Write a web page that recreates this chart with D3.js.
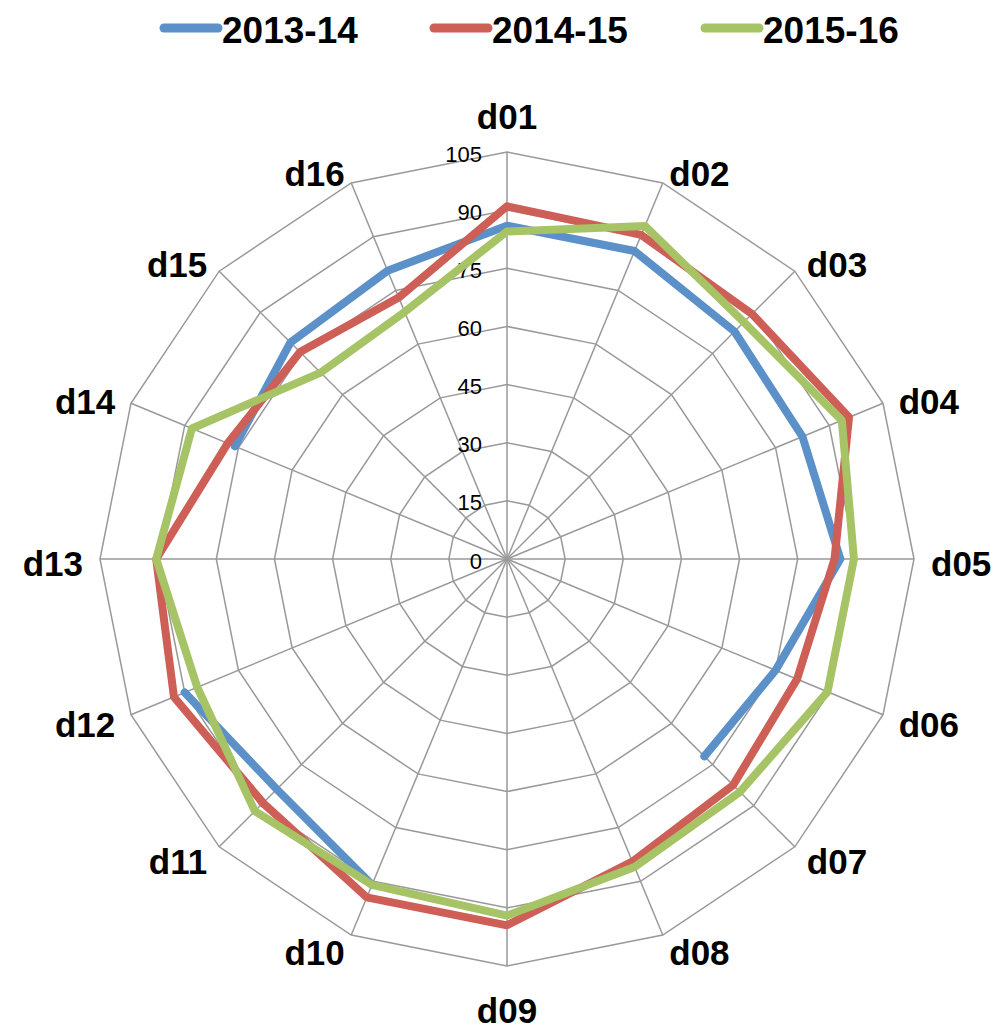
<!DOCTYPE html>
<html>
<head>
<meta charset="utf-8">
<script src="https://cdn.jsdelivr.net/npm/d3@7"></script>
<style>
  html, body { margin: 0; padding: 0; background: #fff; }
  svg { display: block; }
</style>
</head>
<body>
<svg id="chart" width="999" height="1028"></svg>
<script>
const categories = ["d01","d02","d03","d04","d05","d06","d07","d08","d09","d10","d11","d12","d13","d14","d15","d16"];
const seriesNames = ["2013-14","2014-15","2015-16"];
const values2013 = [86, 86, 83, 82.5, 86, 75, 72, null, null, 91, 84, 90, null, 76, 79, 80.5];
const values2014 = [91, 90.5, 89.4, 95.5, 84.5, 81, 82.5, 84.5, 94.5, 94.5, 89, 93, 90.5, 78, 75.5, 73];
const values2015 = [84.5, 93, 86.4, 93.5, 89.5, 89.5, 85, 86, 92, 91, 92, 86.5, 90.5, 88, 68, 69];
const tickValues = [0, 15, 30, 45, 60, 75, 90, 105];
const seriesColors = ["#5B90C8", "#CD5F56", "#A6C365"];

const series = [
  { name: seriesNames[0], values: values2013, color: seriesColors[0] },
  { name: seriesNames[1], values: values2014, color: seriesColors[1] },
  { name: seriesNames[2], values: values2015, color: seriesColors[2] }
];

const svg = d3.select("#chart");
const cx = 507, cy = 559, R = 407;
const r = d3.scaleLinear().domain([0, 105]).range([0, R]);
const n = categories.length;
const angle = d3.scaleLinear().domain([0, n]).range([0, 2 * Math.PI]);

const g = svg.append("g").attr("transform", `translate(${cx},${cy})`);

// grid rings
const ringLine = d3.lineRadial().curve(d3.curveLinearClosed)
  .angle((d, i) => angle(i)).radius(d => r(d));
tickValues.filter(v => v > 0).forEach(v => {
  g.append("path")
    .attr("d", ringLine(categories.map(() => v)))
    .attr("fill", "none").attr("stroke", "#999").attr("stroke-width", 1.5);
});
// spokes
categories.forEach((c, i) => {
  const a = angle(i);
  g.append("line")
    .attr("x1", 0).attr("y1", 0)
    .attr("x2", r(105) * Math.sin(a)).attr("y2", -r(105) * Math.cos(a))
    .attr("stroke", "#999").attr("stroke-width", 1.5);
});

// tick labels
g.selectAll("text.tick").data(tickValues).enter().append("text")
  .attr("class", "tick")
  .attr("x", -25).attr("y", d => -r(d) + 2)
  .attr("text-anchor", "end").attr("dominant-baseline", "central")
  .attr("font-family", "Liberation Sans, Arial, sans-serif")
  .attr("font-size", 22).attr("fill", "#000")
  .text(d => d);

// category labels
categories.forEach((c, i) => {
  const a = angle(i);
  const s = Math.sin(a), co = Math.cos(a);
  let x, y, anchor;
  if (Math.abs(s) < 0.01) {
    anchor = "middle";
    x = 0;
    y = -(R + 40) * co + 4;
  } else {
    anchor = s > 0 ? "start" : "end";
    x = (R + 17) * s;
    y = -(R + 15) * co + 4;
  }
  g.append("text")
    .attr("x", x).attr("y", y)
    .attr("text-anchor", anchor).attr("dominant-baseline", "central")
    .attr("font-family", "Liberation Sans, Arial, sans-serif")
    .attr("font-weight", "bold").attr("font-size", 35).attr("fill", "#000")
    .text(c);
});

// series lines
series.forEach(sr => {
  const vals = sr.values;
  const pts = vals.map((v, i) => ({ v, i }));
  let path;
  if (vals.every(v => v != null)) {
    path = d3.lineRadial().curve(d3.curveLinearClosed)
      .angle(d => angle(d.i)).radius(d => r(d.v))(pts);
  } else {
    const k = vals.findIndex(v => v == null);
    const rot = [];
    for (let j = 1; j <= n; j++) {
      const idx = (k + j) % n;
      rot.push({ v: vals[idx], i: idx, a: angle(idx) + (k + j >= n ? 2 * Math.PI : 0) });
    }
    path = d3.lineRadial().defined(d => d.v != null)
      .angle(d => d.a).radius(d => r(d.v))(rot);
  }
  g.append("path")
    .attr("d", path)
    .attr("fill", "none").attr("stroke", sr.color)
    .attr("stroke-width", 8).attr("stroke-linejoin", "round").attr("stroke-linecap", "round");
});

// legend
const legendX = [160, 430, 701];
const legend = svg.append("g");
series.forEach((sr, i) => {
  const x0 = legendX[i];
  legend.append("line")
    .attr("x1", x0 + 4).attr("x2", x0 + 58).attr("y1", 28).attr("y2", 28)
    .attr("stroke", sr.color).attr("stroke-width", 9).attr("stroke-linecap", "round");
  legend.append("text")
    .attr("x", x0 + 62).attr("y", 30)
    .attr("dominant-baseline", "central")
    .attr("font-family", "Liberation Sans, Arial, sans-serif")
    .attr("font-weight", "bold").attr("font-size", 37).attr("fill", "#000")
    .text(sr.name);
});
</script>
</body>
</html>
